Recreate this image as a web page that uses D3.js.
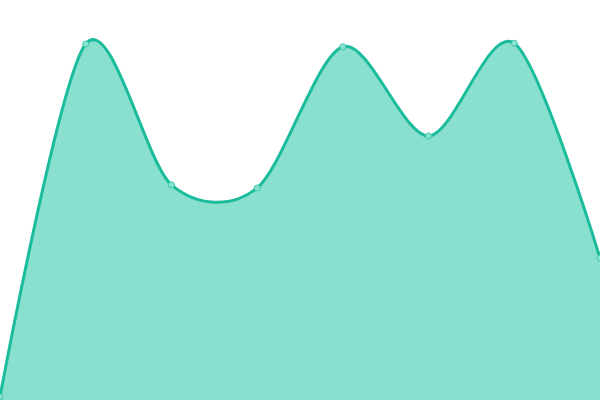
<!DOCTYPE html>
<html lang="en">
<head>
<meta charset="utf-8">
<title>Area</title>
<script src="https://d3js.org/d3.v7.min.js"></script>
<style>
body { margin: 0; background: #fff; }
svg { display: block; }
</style>
</head>
<body>
<script>
// data
var categories = ["A", "B", "C", "D", "E", "F", "G", "H"];
var values = [0.8, 89, 53.8, 53, 88.3, 66, 89.2, 35.5];

var w = 600, h = 400;

var svg = d3.select("body").append("svg")
  .attr("width", w)
  .attr("height", h);

var x = d3.scalePoint()
  .domain(categories)
  .range([0, w]);

var y = d3.scaleLinear()
  .domain([0, 100])
  .range([h, 0]);

var data = categories.map(function(c, i) { return { c: c, v: values[i] }; });

var curve = d3.curveCardinal.tension(0.1);

var area = d3.area()
  .x(function(d) { return x(d.c); })
  .y0(h)
  .y1(function(d) { return y(d.v); })
  .curve(curve);

var line = d3.line()
  .x(function(d) { return x(d.c); })
  .y(function(d) { return y(d.v); })
  .curve(curve);

svg.append("path")
  .datum(data)
  .attr("d", area)
  .attr("fill", "#89e0cf");

svg.append("path")
  .datum(data)
  .attr("d", line)
  .attr("fill", "none")
  .attr("stroke", "#1abc9c")
  .attr("stroke-width", 3);

svg.selectAll("circle")
  .data(data)
  .enter()
  .append("circle")
  .attr("cx", function(d) { return x(d.c); })
  .attr("cy", function(d) { return y(d.v); })
  .attr("r", 3)
  .attr("fill", "#8ae3d0")
  .attr("stroke", "#3cc9ac")
  .attr("stroke-width", 1);
</script>
</body>
</html>
